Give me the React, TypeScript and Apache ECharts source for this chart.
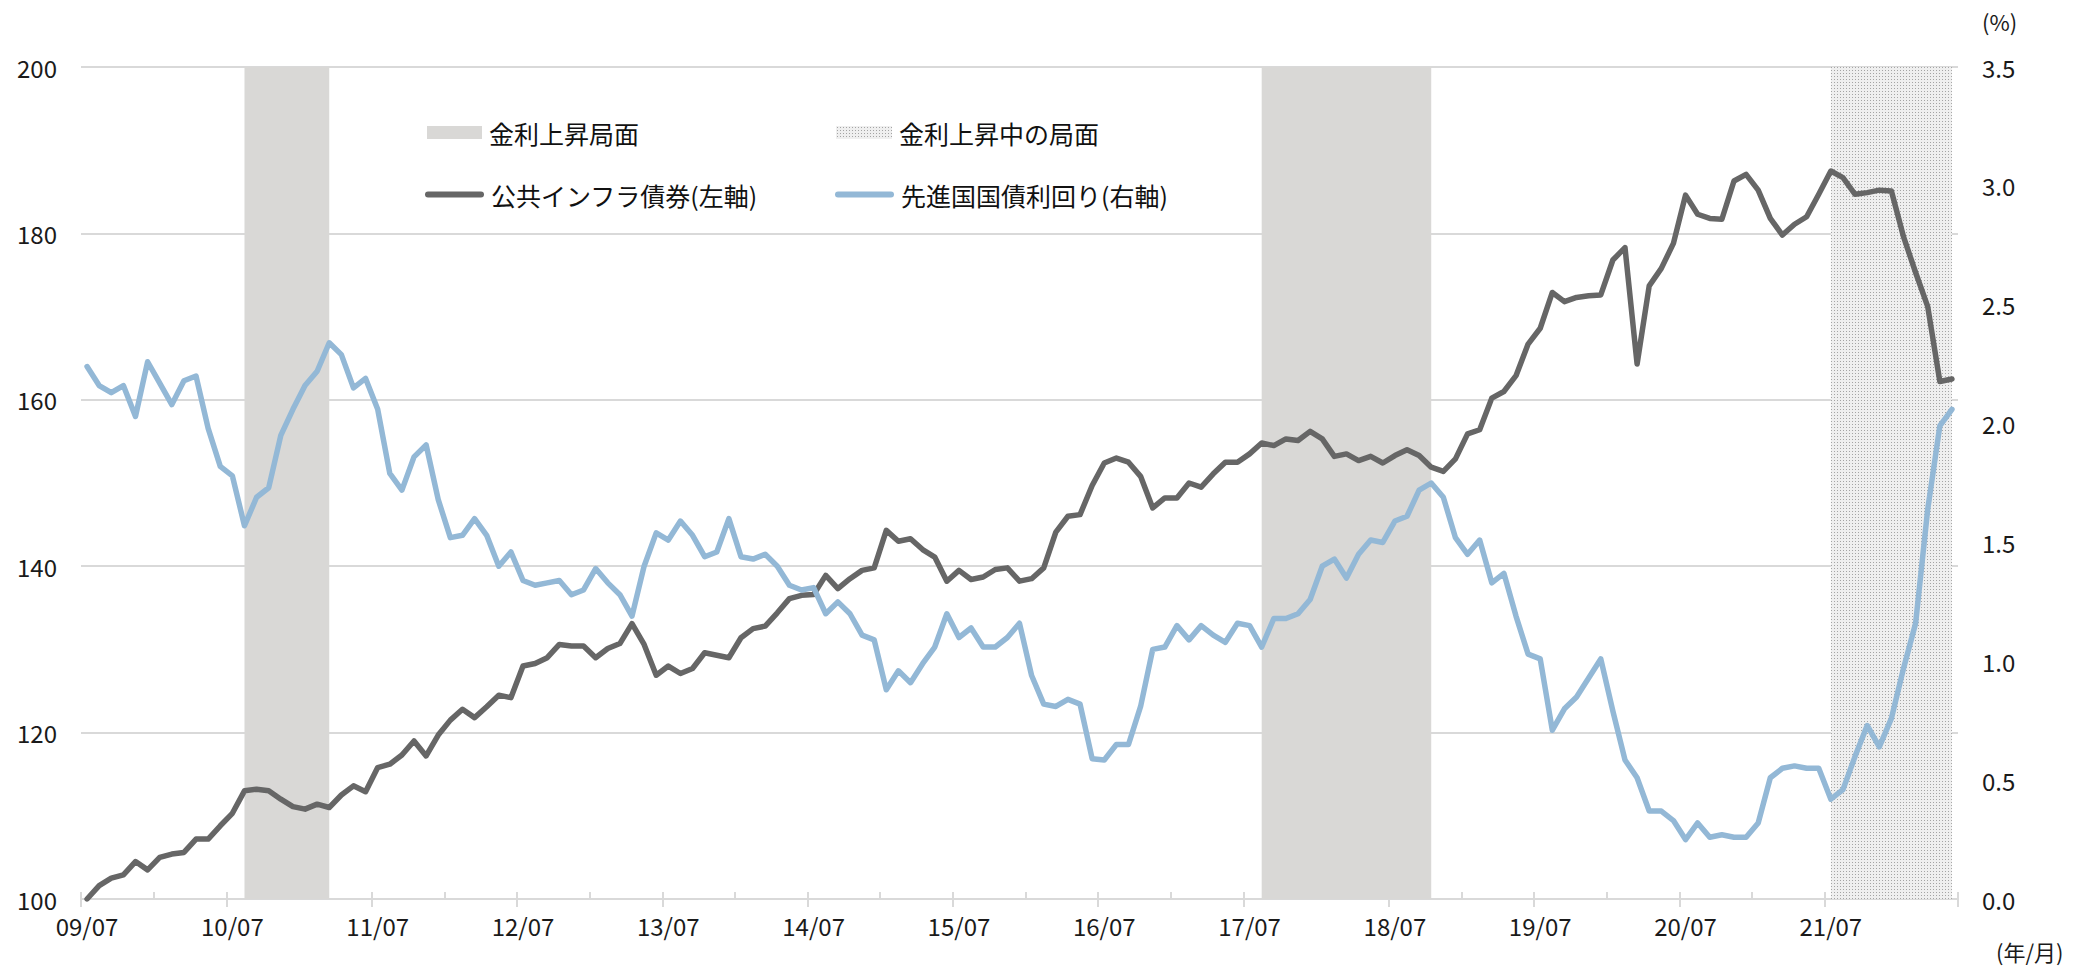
import React, { useEffect, useRef } from "react";
import * as echarts from "echarts";

// ---- data ----
const startYear = 2009;
const startMonth = 7;

// 公共インフラ債券 (left axis, index) 2009/07 .. 2022/05
const infraBond = [
  100, 101.6, 102.5, 102.9, 104.5, 103.5,
  105, 105.4, 105.6, 107.2, 107.2, 108.8, 110.3, 113, 113.2, 113, 112, 111.1,
  110.8, 111.4, 111, 112.5, 113.6, 112.9, 115.8, 116.2, 117.3, 119, 117.2, 119.7,
  121.5, 122.8, 121.8, 123.1, 124.5, 124.2, 128, 128.3, 129, 130.6, 130.4, 130.4,
  129, 130.1, 130.7, 133.1, 130.6, 126.9, 128, 127.1, 127.7, 129.6, 129.3, 129,
  131.4, 132.5, 132.8, 134.4, 136.1, 136.5, 136.6, 138.9, 137.3, 138.5, 139.5, 139.8,
  144.3, 143, 143.3, 142, 141.1, 138.2, 139.5, 138.4, 138.7, 139.6, 139.8, 138.2,
  138.5, 139.8, 144.1, 146, 146.2, 149.7, 152.4, 153, 152.5, 150.8, 147, 148.2,
  148.2, 150, 149.5, 151.1, 152.5, 152.5, 153.5, 154.8, 154.5, 155.3, 155.1, 156.2,
  155.3, 153.2, 153.5, 152.7, 153.2, 152.4, 153.3, 154, 153.3, 151.9, 151.4, 152.9,
  155.9, 156.4, 160.2, 161, 162.9, 166.7, 168.6, 172.9, 171.8, 172.3, 172.5, 172.6,
  176.8, 178.3, 164.3, 173.7, 175.8, 178.8, 184.6, 182.3, 181.8, 181.7, 186.3, 187.1,
  185.2, 181.8, 179.8, 181.1, 182, 184.7, 187.5, 186.7, 184.7, 184.9, 185.2, 185.1,
  179.6, 175.3, 171.2, 162.2, 162.5,
];

// 先進国国債利回り (right axis, %) 2009/07 .. 2022/05
const dmYield = [
  2.24, 2.16, 2.13, 2.16, 2.03, 2.26,
  2.17, 2.08, 2.18, 2.2, 1.98, 1.82, 1.78, 1.57, 1.69, 1.73, 1.95, 2.06,
  2.16, 2.22, 2.34, 2.29, 2.15, 2.19, 2.06, 1.79, 1.72, 1.86, 1.91, 1.68,
  1.52, 1.53, 1.6, 1.53, 1.4, 1.46, 1.34, 1.32, 1.33, 1.34, 1.28, 1.3,
  1.39, 1.33, 1.28, 1.19, 1.4, 1.54, 1.51, 1.59, 1.53, 1.44, 1.46, 1.6,
  1.44, 1.43, 1.45, 1.4, 1.32, 1.3, 1.31, 1.2, 1.25, 1.2, 1.11, 1.09,
  0.88, 0.96, 0.91, 0.99, 1.06, 1.2, 1.1, 1.14, 1.06, 1.06, 1.1, 1.16,
  0.94, 0.82, 0.81, 0.84, 0.82, 0.59, 0.585, 0.65, 0.65, 0.81, 1.05, 1.06,
  1.15, 1.09, 1.15, 1.11, 1.08, 1.16, 1.15, 1.06, 1.18, 1.18, 1.2, 1.26,
  1.4, 1.43, 1.35, 1.45, 1.51, 1.5, 1.59, 1.61, 1.72, 1.75, 1.69, 1.52,
  1.45, 1.51, 1.33, 1.37, 1.19, 1.03, 1.01, 0.71, 0.8, 0.85, 0.93, 1.01,
  0.79, 0.585, 0.51, 0.37, 0.37, 0.33, 0.25, 0.32, 0.26, 0.27, 0.26, 0.26,
  0.32, 0.51, 0.55, 0.56, 0.55, 0.55, 0.42, 0.46, 0.6, 0.73, 0.64, 0.76,
  0.97, 1.16, 1.64, 1.99, 2.06,
];

// shaded periods
const risingPeriods = [
  ["10/08", "11/03"],
  ["17/08", "18/10"],
];
const risingNowPeriod = ["21/07", "22/05"];

const seriesNames = {
  rising: "金利上昇局面",
  risingNow: "金利上昇中の局面",
  infra: "公共インフラ債券(左軸)",
  yield: "先進国国債利回り(右軸)",
};

const categories = infraBond.map((_, i) => {
  const m = startMonth - 1 + i;
  const y = startYear + Math.floor(m / 12);
  const mm = (m % 12) + 1;
  return `${String(y % 100).padStart(2, "0")}/${String(mm).padStart(2, "0")}`;
});

const FONT = "'Noto Sans CJK JP', 'Noto Sans', sans-serif";
const TEXT = "#1a1a1a";
const GRID = "#d9d9d9";
const DARK = "#666666";
const BLUE = "#93b8d6";
const SHADE = "#d9d8d6";
const STADIUM = "path://M3,0 L56,0 A3,3 0 0 1 56,6 L3,6 A3,3 0 0 1 3,0 Z";

export default function App() {
  const ref = useRef<HTMLDivElement>(null);

  useEffect(() => {
    if (!ref.current) return;
    const chart = echarts.init(ref.current, null, { renderer: "svg" });

    const c = document.createElement("canvas");
    c.width = 3;
    c.height = 3;
    const ctx = c.getContext("2d")!;
    ctx.fillStyle = "#efefef";
    ctx.fillRect(0, 0, 3, 3);
    ctx.fillStyle = "#a4a4a4";
    ctx.fillRect(1, 1, 1, 1);
    const pattern: any = { image: c, repeat: "repeat" };

    const legendText = { color: "#111111", fontSize: 25, fontFamily: FONT, padding: [0, 0, 0, 2] };

    chart.setOption({
      animation: false,
      textStyle: { fontFamily: FONT },
      grid: { left: 81, right: 117, top: 67, bottom: 69, containLabel: false },
      legend: [
        {
          data: [{ name: seriesNames.rising, icon: "rect", itemStyle: { color: SHADE } }],
          left: 427, top: 120, itemWidth: 55, itemHeight: 13, padding: 0,
          selectedMode: false, textStyle: legendText,
        },
        {
          data: [{ name: seriesNames.risingNow, icon: "rect", itemStyle: { color: pattern } }],
          left: 836, top: 120, itemWidth: 56, itemHeight: 13, padding: 0,
          selectedMode: false, textStyle: legendText,
        },
        {
          data: [{ name: seriesNames.infra, icon: STADIUM, itemStyle: { color: DARK } }],
          left: 425, top: 182, itemWidth: 59, itemHeight: 6, padding: 0,
          selectedMode: false, textStyle: legendText,
        },
        {
          data: [{ name: seriesNames.yield, icon: STADIUM, itemStyle: { color: BLUE } }],
          left: 835, top: 182, itemWidth: 59, itemHeight: 6, padding: 0,
          selectedMode: false, textStyle: legendText,
        },
      ],
      xAxis: [
        {
          type: "category",
          data: categories,
          boundaryGap: true,
          axisLine: { show: true, lineStyle: { color: GRID, width: 2 } },
          axisTick: { show: true, interval: 11, length: 8, lineStyle: { color: GRID, width: 2 } },
          axisLabel: { interval: 11, color: TEXT, fontSize: 24, fontFamily: FONT, margin: 14 },
          splitLine: { show: false },
        },
        {
          type: "category",
          data: categories,
          boundaryGap: true,
          position: "bottom",
          axisLine: { show: false },
          axisTick: { show: true, inside: true, interval: 5, length: 7, lineStyle: { color: GRID, width: 2 } },
          axisLabel: { show: false },
          splitLine: { show: false },
        },
      ],
      yAxis: [
        {
          type: "value",
          min: 100,
          max: 200,
          interval: 20,
          axisLine: { show: false },
          axisTick: { show: false },
          axisLabel: { color: TEXT, fontSize: 24, fontFamily: FONT, margin: 24 },
          splitLine: { show: true, lineStyle: { color: GRID, width: 2 } },
        },
        {
          type: "value",
          min: 0,
          max: 3.5,
          interval: 0.5,
          position: "right",
          axisLine: { show: false },
          axisTick: { show: false },
          axisLabel: {
            color: TEXT, fontSize: 24, fontFamily: FONT, margin: 24,
            formatter: (v: number) => v.toFixed(1),
          },
          splitLine: { show: false },
        },
      ],
      series: [
        {
          name: seriesNames.rising,
          type: "line",
          data: [],
          symbol: "none",
          itemStyle: { color: SHADE },
          silent: true,
          z: 1,
          markArea: {
            silent: true,
            itemStyle: { color: SHADE, opacity: 1 },
            data: risingPeriods.map(([a, b]) => [{ xAxis: a }, { xAxis: b }]),
          },
        },
        {
          name: seriesNames.risingNow,
          type: "line",
          data: [],
          symbol: "none",
          itemStyle: { color: "#d0d0d0" },
          silent: true,
          z: 1,
          markArea: {
            silent: true,
            itemStyle: { color: pattern, opacity: 1 },
            data: [[{ xAxis: risingNowPeriod[0] }, { xAxis: risingNowPeriod[1] }]],
          },
        },
        {
          name: seriesNames.infra,
          type: "line",
          data: infraBond,
          yAxisIndex: 0,
          symbol: "none",
          itemStyle: { color: DARK },
          lineStyle: { color: DARK, width: 5.5, cap: "round", join: "round" },
          z: 3,
        },
        {
          name: seriesNames.yield,
          type: "line",
          data: dmYield,
          yAxisIndex: 1,
          symbol: "none",
          itemStyle: { color: BLUE },
          lineStyle: { color: BLUE, width: 5.5, cap: "round", join: "round" },
          z: 4,
        },
      ],
      graphic: [
        {
          type: "text",
          left: 1982,
          top: 10,
          style: { text: "(%)", fill: TEXT, font: `22px ${FONT}` },
        },
        {
          type: "text",
          left: 1996,
          top: 940,
          style: { text: "(年/月)", fill: TEXT, font: `22px ${FONT}` },
        },
      ],
    });

    return () => chart.dispose();
  }, []);

  return (
    <div
      ref={ref}
      style={{ position: "absolute", left: 0, top: 0, width: 2075, height: 968, background: "#fff" }}
    />
  );
}
